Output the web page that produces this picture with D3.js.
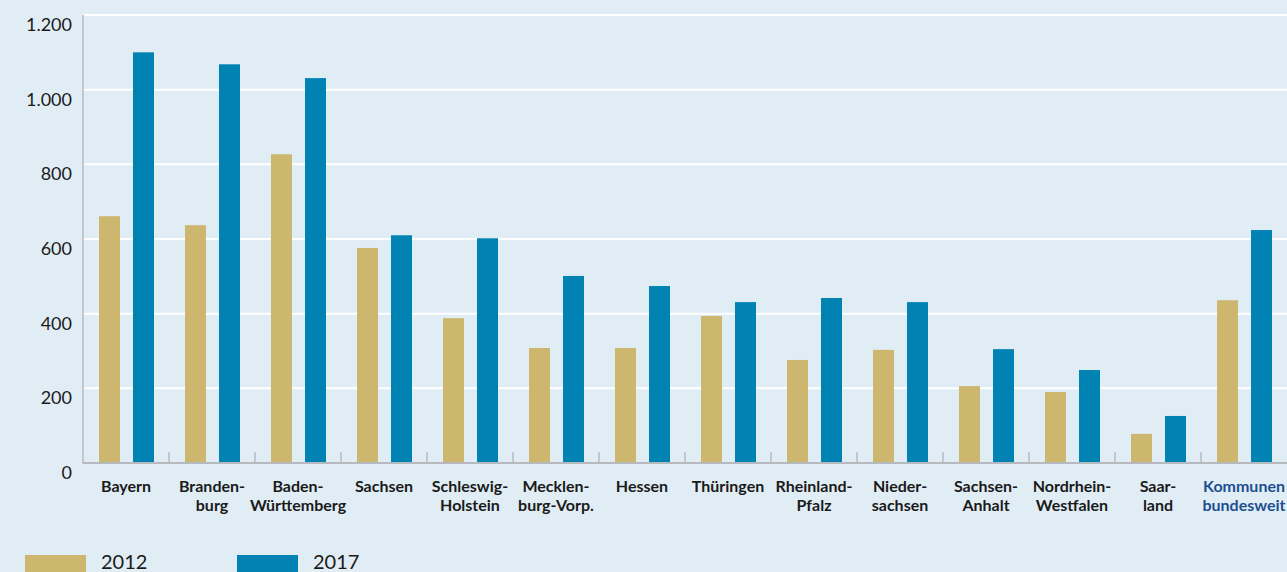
<!DOCTYPE html>
<html>
<head>
<meta charset="utf-8">
<script src="https://cdn.jsdelivr.net/npm/d3@7"></script>
<style>
  html, body { margin: 0; padding: 0; background: #e1edf5; overflow: hidden; }
  svg { display: block; }
</style>
</head>
<body>
<svg id="chart" width="1287" height="572"></svg>
<script>
// ---- Data ----
const categories = [
  "Bayern", "Branden-\nburg", "Baden-\nWürttemberg", "Sachsen", "Schleswig-\nHolstein",
  "Mecklen-\nburg-Vorp.", "Hessen", "Thüringen", "Rheinland-\nPfalz", "Nieder-\nsachsen",
  "Sachsen-\nAnhalt", "Nordrhein-\nWestfalen", "Saar-\nland", "Kommunen\nbundesweit"
];
const series = ["2012", "2017"];
const values2012 = [661, 637, 827, 576, 388, 308, 308, 394, 276, 303, 206, 190, 78, 436];
const values2017 = [1100, 1068, 1031, 610, 602, 501, 474, 431, 442, 431, 305, 249, 126, 624];
const yTicks = [0, 200, 400, 600, 800, 1000, 1200];
const colors = ["#cdb76f", "#0083b3"];

// ---- Layout ----
const mLeft = 83, mRight = 1287, mTop = 15, mBottom = 463;
const svg = d3.select("#chart");

const de = d3.formatLocale({ decimal: ",", thousands: ".", grouping: [3], currency: ["", " €"] });
const fmt = de.format(",d");

const x0 = d3.scaleBand().domain(categories).range([mLeft, mRight]).padding(0);
const x1 = d3.scaleBand().domain(series).range([16, 71]).paddingInner(0.382).paddingOuter(0);
const y = d3.scaleLinear().domain([0, 1200]).range([mBottom, mTop]);

// gridlines
svg.append("g").selectAll("line").data(yTicks.filter(d => d > 0)).join("line")
  .attr("x1", mLeft).attr("x2", mRight)
  .attr("y1", d => y(d)).attr("y2", d => y(d))
  .attr("stroke", "#ffffff").attr("stroke-width", 2);

// y axis labels
svg.append("g").selectAll("text").data(yTicks).join("text")
  .attr("x", 72).attr("y", d => y(d) + 16)
  .attr("text-anchor", "end")
  .attr("font-family", "Lato, 'Open Sans', sans-serif")
  .attr("font-size", 18).attr("fill", "#1a1a1a")
  .text(d => fmt(d));

// bars
const data = categories.map((c, i) => ({ c, vals: [values2012[i], values2017[i]] }));
const groups = svg.append("g").selectAll("g").data(data).join("g")
  .attr("transform", d => `translate(${x0(d.c)},0)`);
groups.selectAll("rect").data(d => d.vals.map((v, j) => ({ s: series[j], v, j }))).join("rect")
  .attr("x", d => x1(d.s)).attr("width", x1.bandwidth())
  .attr("y", d => y(d.v)).attr("height", d => y(0) - y(d.v))
  .attr("fill", d => colors[d.j]);

// axis lines
svg.append("line").attr("x1", mLeft).attr("x2", mLeft).attr("y1", mTop).attr("y2", mBottom + 1)
  .attr("stroke", "#b6babf").attr("stroke-width", 1.5);
svg.append("line").attr("x1", mLeft).attr("x2", mRight).attr("y1", mBottom).attr("y2", mBottom)
  .attr("stroke", "#b6babf").attr("stroke-width", 2);
// category separator ticks
svg.append("g").selectAll("line").data(categories.slice(1)).join("line")
  .attr("x1", d => x0(d)).attr("x2", d => x0(d))
  .attr("y1", mBottom - 11).attr("y2", mBottom)
  .attr("stroke", "#b6babf").attr("stroke-width", 1.5);

// category labels
const lab = svg.append("g").selectAll("text").data(categories).join("text")
  .attr("x", d => x0(d) + x0.bandwidth() / 2)
  .attr("y", 492)
  .attr("text-anchor", "middle")
  .attr("font-family", "Lato, 'Open Sans', sans-serif")
  .attr("font-weight", "bold").attr("font-size", 16)
  .attr("fill", (d, i) => i === categories.length - 1 ? "#1d4f91" : "#1a1a1a");
lab.selectAll("tspan").data(d => d.split("\n")).join("tspan")
  .attr("x", function () { return this.parentNode.getAttribute("x"); })
  .attr("dy", (d, i) => i === 0 ? 0 : 19)
  .text(d => d);

// legend
const legend = svg.append("g").selectAll("g").data(series).join("g")
  .attr("transform", (d, i) => `translate(${25 + i * 212},555)`);
legend.append("rect").attr("width", 61).attr("height", 20).attr("fill", (d, i) => colors[i]);
legend.append("text").attr("x", 76).attr("y", 14)
  .attr("font-family", "Lato, 'Open Sans', sans-serif")
  .attr("font-size", 20).attr("fill", "#1a1a1a")
  .text(d => d);
</script>
</body>
</html>
